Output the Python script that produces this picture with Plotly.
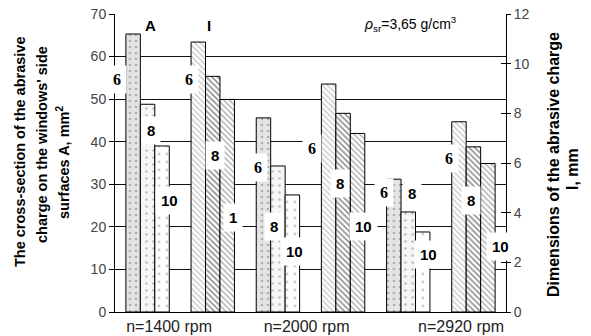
import plotly.graph_objects as go

# ---- data ----
categories = ["n=1400 rpm", "n=2000 rpm", "n=2920 rpm"]
charge_sizes = ["6", "8", "10"]
A_6 = [65.3, 45.6, 31.2]
A_8 = [48.8, 34.3, 23.5]
A_10 = [39.0, 27.5, 18.8]
I_6 = [10.87, 9.18, 7.66]
I_8 = [9.49, 8.0, 6.65]
I_10 = [8.56, 7.19, 5.98]
left_ticks = [0, 10, 20, 30, 40, 50, 60, 70]
right_ticks = [0, 2, 4, 6, 8, 10, 12]

# label texts and their placement (x in slot units, y in left-axis units)
label_text = ["6", "8", "10", "6", "8", "1",
              "6", "8", "10", "6", "8", "10",
              "6", "8", "10", "6", "8", "10"]
label_x = [-0.47, 0.05, 0.34, 0.64, 1.03, 1.315,
           1.70, 1.94, 2.25, 2.52, 2.95, 3.32,
           3.63, 4.05, 4.31, 4.63, 4.97, 5.41]
label_y = [54.5, 42.7, 26.3, 54.5, 36.8, 22.3,
           34.0, 20.0, 14.1, 38.4, 30.2, 20.0,
           28.1, 27.8, 13.6, 36.1, 26.3, 15.5]

A_series = [A_6, A_8, A_10]
I_series = [I_6, I_8, I_10]
A_x = [0, 2, 4]
I_x = [1, 3, 5]
bw = 0.222
offsets = [-1.5 * bw, -0.5 * bw, 0.5 * bw]

A_styles = [
    dict(bg="#e4e4e4", fg="#777777", size=6, sol=0.15),
    dict(bg="#f6f6f6", fg="#888888", size=7, sol=0.12),
    dict(bg="#ffffff", fg="#999999", size=8, sol=0.1),
]
I_styles = [
    dict(bg="#ffffff", fg="#a0a0a0", size=4, sol=0.4),
    dict(bg="#ffffff", fg="#222222", size=4, sol=0.4),
    dict(bg="#ffffff", fg="#555555", size=4, sol=0.35),
]

fig = go.Figure()
for k in range(3):
    st = A_styles[k]
    fig.add_trace(go.Bar(
        x=A_x, y=A_series[k], name="A " + charge_sizes[k],
        offset=offsets[k], width=bw, yaxis="y",
        marker=dict(color=st["bg"], line=dict(color="#000000", width=1),
                    pattern=dict(shape=".", fgcolor=st["fg"], bgcolor=st["bg"],
                                 size=st["size"], solidity=st["sol"], fillmode="overlay")),
        showlegend=False, hoverinfo="skip",
    ))
for k in range(3):
    st = I_styles[k]
    fig.add_trace(go.Bar(
        x=I_x, y=I_series[k], name="I " + charge_sizes[k],
        offset=offsets[k], width=bw, yaxis="y2",
        marker=dict(color=st["bg"], line=dict(color="#000000", width=1),
                    pattern=dict(shape="\\", fgcolor=st["fg"], bgcolor=st["bg"],
                                 size=st["size"], solidity=st["sol"], fillmode="overlay")),
        showlegend=False, hoverinfo="skip",
    ))
# empty helper traces so the extra tick-only axes get drawn
fig.add_trace(go.Scatter(x=[None], y=[None], yaxis="y3", showlegend=False, hoverinfo="skip"))
fig.add_trace(go.Scatter(x=[None], y=[None], yaxis="y4", showlegend=False, hoverinfo="skip"))

annotations = []
for t, x, y in zip(label_text, label_x, label_y):
    fam = "Liberation Serif" if t == "6" else "Liberation Sans"
    annotations.append(dict(x=x, y=y, xref="x", yref="y", text="<b>" + t + "</b>",
                            showarrow=False, bgcolor="#ffffff", borderpad=5,
                            font=dict(family=fam, size=16 if t == "6" else 15, color="#000000")))

# A / I headers
annotations.append(dict(x=0.05, y=67.3, xref="x", yref="y", text="<b>A</b>", showarrow=False,
                        font=dict(family="Liberation Sans", size=15, color="#000000")))
annotations.append(dict(x=0.94, y=67.3, xref="x", yref="y", text="<b>I</b>", showarrow=False,
                        font=dict(family="Liberation Sans", size=15, color="#000000")))
# density note
annotations.append(dict(x=4.03, y=67.7, xref="x", yref="y",
                        text="<i>ρ</i><sub>sr</sub>=3,65 g/cm<sup>3</sup>", showarrow=False,
                        bgcolor="#ffffff", borderpad=3,
                        font=dict(family="Liberation Sans", size=14, color="#000000")))

# axis titles (positions given in page pixels)
def ptitle(text, px, py, size):
    return dict(xref="paper", yref="paper", x=0, y=(312 - py) / 298, xshift=px - 115,
                xanchor="center", yanchor="middle", textangle=-90, text="<b>" + text + "</b>",
                showarrow=False, font=dict(family="Liberation Sans", size=size, color="#000000"))

annotations.append(ptitle("The cross-section of the abrasive", 20, 152, 14.5))
annotations.append(ptitle("charge on the windows' side", 42, 145, 14.5))
annotations.append(ptitle("surfaces A, mm<sup>2</sup>", 63, 163, 14.5))
annotations.append(ptitle("Dimensions of the abrasive charge", 553, 165, 16))
annotations.append(ptitle("I, mm", 572, 169, 16))

tickfont = dict(family="Liberation Sans", size=14, color="#444444")
fig.update_layout(
    width=591, height=336,
    margin=dict(l=115, r=85, t=14, b=24, autoexpand=False),
    paper_bgcolor="#ffffff", plot_bgcolor="#ffffff",
    barmode="overlay",
    annotations=annotations,
    xaxis=dict(range=[-0.5, 5.5], tickvals=[0.33, 2.44, 4.81], ticktext=categories,
               automargin=False, fixedrange=True,
               showgrid=False, zeroline=False, showline=True, linecolor="#000000", linewidth=1,
               ticks="", tickfont=dict(family="Liberation Sans", size=16, color="#222222")),
    yaxis=dict(range=[0, 70], tickvals=left_ticks, showgrid=True, gridcolor="#111111", gridwidth=1,
               automargin=False, fixedrange=True,
               zeroline=False, showline=True, linecolor="#000000", linewidth=1,
               ticks="outside", ticklen=5, tickcolor="#000000", tickfont=tickfont),
    yaxis2=dict(range=[0, 12], tickvals=right_ticks, overlaying="y", side="right",
                automargin=False, fixedrange=True,
                showgrid=False, zeroline=False, showline=True, linecolor="#000000", linewidth=1,
                ticks="outside", ticklen=4, tickcolor="#000000", tickfont=tickfont),
    yaxis3=dict(range=[0, 70], tickvals=left_ticks, overlaying="y", side="left",
                automargin=False, fixedrange=True, showticklabels=False,
                showgrid=False, zeroline=False, showline=False,
                ticks="inside", ticklen=5, tickcolor="#000000"),
    yaxis4=dict(range=[0, 12], tickvals=right_ticks, overlaying="y", side="right",
                automargin=False, fixedrange=True, showticklabels=False,
                showgrid=False, zeroline=False, showline=False,
                ticks="inside", ticklen=5, tickcolor="#000000"),
)

fig.write_html("out.html", post_script="document.body.style.margin='0';",
               config={"displayModeBar": False})
